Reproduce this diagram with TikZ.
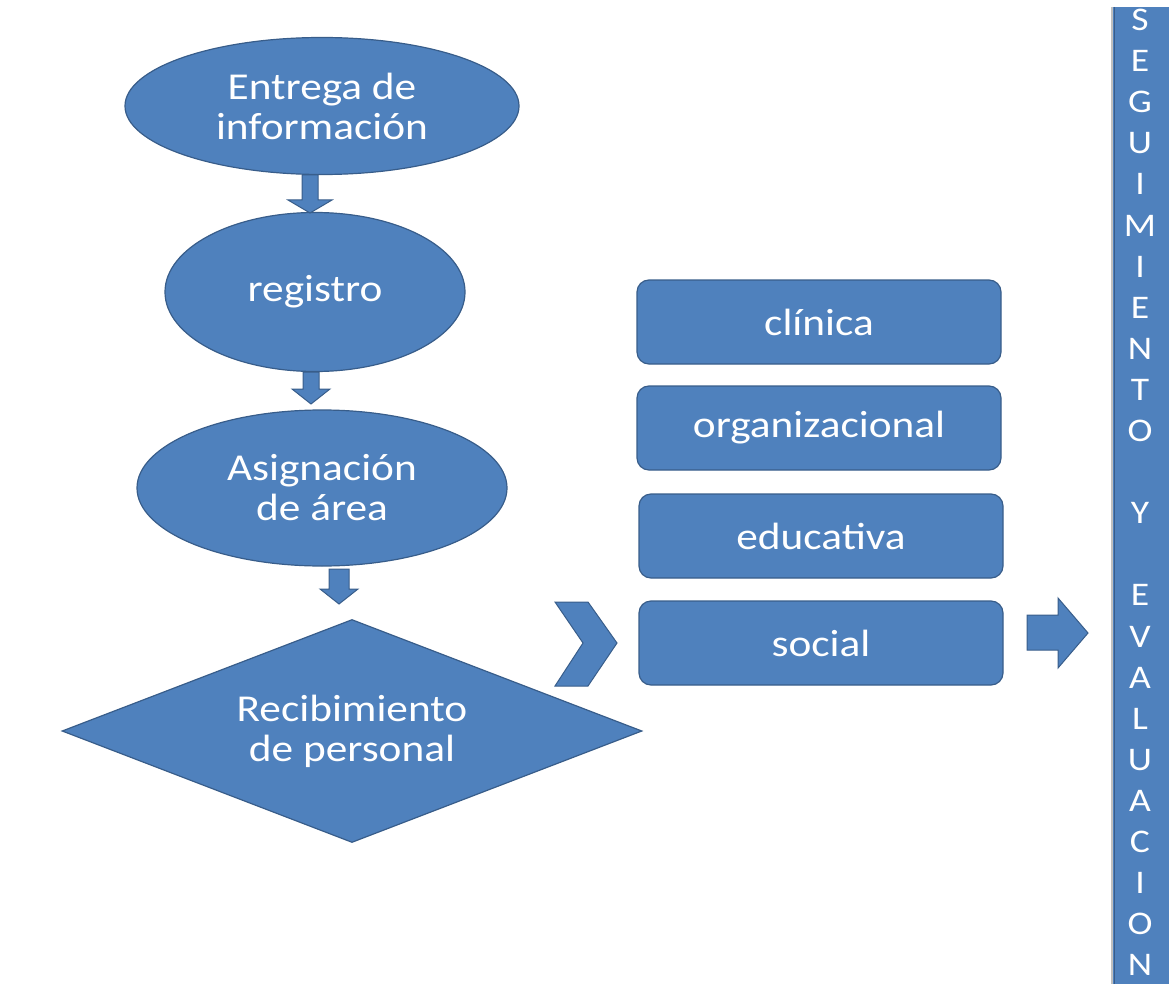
\documentclass[tikz,border=0pt]{standalone}
\usepackage{fontspec}
\setmainfont{Carlito}[FakeStretch=1.14]
\usetikzlibrary{shapes.geometric}
\definecolor{boxfill}{HTML}{4F81BD}
\definecolor{boxline}{HTML}{385D8A}
\tikzset{
  blueshape/.style={fill=boxfill, draw=boxline, line width=1.2pt, text=white,
    font=\fontsize{38}{40}\selectfont, align=center, inner sep=0pt},
  oval/.style={blueshape, ellipse},
  rbox/.style={blueshape, rounded corners=12pt, minimum width=364pt, minimum height=84pt},
  blockarrow/.style={fill=boxfill, draw=boxline, line width=1pt, line join=miter},
  sideletter/.style={text=white, font=\fontsize{33}{36}\selectfont, inner sep=0pt}
}
\begin{document}
\begin{tikzpicture}[x=1pt,y=-1pt]
\useasboundingbox (0,0) rectangle (1169,984);

% ovals
\node[oval, minimum width=394pt, minimum height=137pt] (e1) at (322,106) {Entrega de\\información};
\node[oval, minimum width=300pt, minimum height=159pt] (e2) at (315,292) {registro};
\node[oval, minimum width=370pt, minimum height=156pt] (e3) at (322,488) {Asignación\\de área};
\node[blueshape, diamond, shape aspect=2.6, minimum width=580pt, minimum height=223pt] (d) at (352,731) {Recibimiento\\de personal};

% down block arrows
\draw[blockarrow] (302,175)--(318,175)--(318,200)--(332,200)--(310,213)--(288,200)--(302,200)--cycle;
\draw[blockarrow] (303,372)--(319,372)--(319,389)--(330,389)--(311,404)--(292,389)--(303,389)--cycle;
\draw[blockarrow] (329,569)--(349,569)--(349,589)--(358,589)--(339,604)--(320,589)--(329,589)--cycle;

% chevron
\draw[blockarrow] (555,602)--(588,602)--(617,643)--(588,686)--(555,686)--(583,643)--cycle;

% area boxes
\node[rbox] (b1) at (819,322) {clínica};
\node[rbox] (b2) at (819,428) {organizacional};
\node[rbox] (b3) at (821,536) {educativa};
\node[rbox] (b4) at (821,643) {social};

% right block arrow
\draw[blockarrow] (1027,615)--(1058,615)--(1058,598)--(1088,633)--(1058,668)--(1058,650)--(1027,650)--cycle;

% vertical bar
\draw[gray!50, line width=1.5pt] (1112,7) -- (1112,984);
\fill[boxfill] (1113,7) rectangle (1172,990);
\draw[boxline, line width=1pt] (1114,7) -- (1114,990);
\foreach \l [count=\i from 0] in {S,E,G,U,I,M,I,E,N,T,O,{},Y,{},E,V,A,L,U,A,C,I,O,N}{
  \node[sideletter] (s\i) at (1140,{20+41.1*\i}) {\l};
}
\end{tikzpicture}
\end{document}
